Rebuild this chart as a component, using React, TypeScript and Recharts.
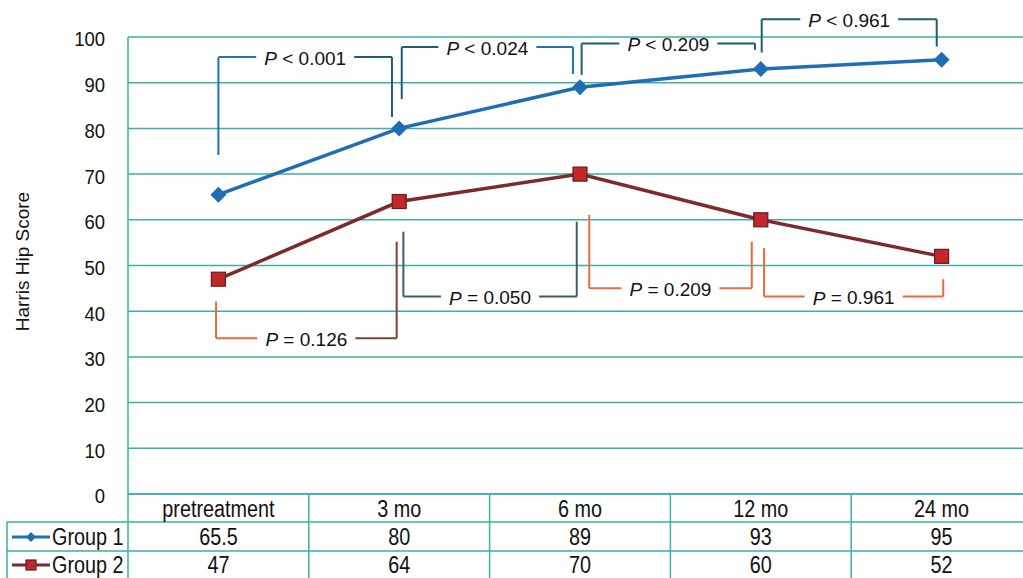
import React from 'react';
import {
    ComposedChart,
    Line,
    XAxis,
    YAxis,
    CartesianGrid,
    ReferenceLine,
    ReferenceDot
} from 'recharts';

// data
const categories = ['pretreatment', '3 mo', '6 mo', '12 mo', '24 mo'];
const group1 = [65.5, 80, 89, 93, 95];
const group2 = [47, 64, 70, 60, 52];
const yTicks = [0, 10, 20, 30, 40, 50, 60, 70, 80, 90, 100];
const xTicks = [0, 1, 2, 3, 4];

// significance brackets, in data units (x = category index, y = score)
const BLUE = '#2172b8';
const DARK_TEAL = '#1d5f72';
const ORANGE = '#f0693d';
const DARK_RED = '#8a3c34';
const SLATE = '#3f5e6b';

const group1Brackets = [
    { from: 0, to: 0.96, level: 95.6, leftEnd: 74.2, rightEnd: 82.5, text: '< 0.001', leftColor: BLUE, rightColor: DARK_TEAL },
    { from: 1.014, to: 1.961, level: 97.8, leftEnd: 86.4, rightEnd: 91.9, text: '< 0.024', leftColor: DARK_TEAL, rightColor: BLUE },
    { from: 2.009, to: 2.968, level: 98.6, leftEnd: 91.7, rightEnd: 97.2, text: '< 0.209', leftColor: DARK_TEAL, rightColor: DARK_TEAL },
    { from: 3.005, to: 3.973, level: 103.9, leftEnd: 96.6, rightEnd: 97.9, text: '< 0.961', leftColor: DARK_TEAL, rightColor: DARK_TEAL }
];

const group2Brackets = [
    { from: -0.013, to: 0.986, level: 34.1, leftEnd: 42.1, rightEnd: 55.2, text: '= 0.126', leftColor: ORANGE, rightColor: DARK_RED },
    { from: 1.023, to: 1.982, level: 43.2, leftEnd: 57.4, rightEnd: 59.6, text: '= 0.050', leftColor: SLATE, rightColor: SLATE },
    { from: 2.051, to: 2.95, level: 45.0, leftEnd: 61.1, rightEnd: 55.2, text: '= 0.209', leftColor: ORANGE, rightColor: ORANGE },
    { from: 3.018, to: 4.009, level: 43.2, leftEnd: 53.8, rightEnd: 47.0, text: '= 0.961', leftColor: ORANGE, rightColor: ORANGE }
];

const chartData = categories.map((c, i) => ({ idx: i, cat: c, g1: group1[i], g2: group2[i] }));

// layout
const W = 1040;
const H = 580;
const MARGIN = { top: 37, right: 8, bottom: 0, left: 0 };
const Y_AXIS_W = 128;
const X_AXIS_H = 86;
const PLOT_W = W - MARGIN.left - MARGIN.right - Y_AXIS_W;
const PLOT_BOTTOM = MARGIN.top + (H - MARGIN.top - MARGIN.bottom - X_AXIS_H);
const COL_W = PLOT_W / categories.length;
const LABEL_GAP = 49 / COL_W; // half-width of the gap left in a bracket for its text
const TEAL = '#3aafab';
const FONT = '"Liberation Sans", Arial, Helvetica, sans-serif';
const G1_COLOR = '#1f6db5';
const G2_LINE = '#7e2a2a';
const G2_FILL = '#c4262c';
const TXT = 23;
const SQUEEZE = 0.86; // the figure's font is a condensed sans

const ROW1 = PLOT_BOTTOM + 28;
const ROW2 = PLOT_BOTTOM + 57;

// condensed text: regular sans squeezed horizontally around its anchor
const NText = ({ x, y, anchor = 'middle', size = TXT, sx = SQUEEZE, children }: any) => (
    <text
        transform={`translate(${x},${y}) scale(${sx},1)`}
        x={0}
        y={0}
        textAnchor={anchor}
        dominantBaseline="central"
        fontSize={size}
        fill="#111"
    >
        {children}
    </text>
);

const Diamond = ({ cx, cy, size = 8, color = G1_COLOR }: any) => (
    <polygon
        points={`${cx},${cy - size} ${cx + size},${cy} ${cx},${cy + size} ${cx - size},${cy}`}
        fill={color}
    />
);

const Square = ({ cx, cy, size = 7 }: any) => (
    <rect x={cx - size} y={cy - size} width={size * 2} height={size * 2} fill={G2_FILL} stroke="#5e1f1f" strokeWidth={1.2} />
);

const YTick = (props: any) => (
    <NText x={props.x} y={props.y + 2} anchor="end" size={21} sx={0.88}>{props.payload.value}</NText>
);

// each x tick draws one column of the data table under the plot
const TableTick = (props: any) => {
    const { x, payload } = props;
    const i = payload.value as number;
    const left = x - COL_W / 2;
    const right = x + COL_W / 2;
    return (
        <g>
            <line x1={right} y1={PLOT_BOTTOM} x2={right} y2={H} stroke={TEAL} strokeWidth={1.5} />
            <line x1={left} y1={ROW1} x2={right} y2={ROW1} stroke={TEAL} strokeWidth={1.5} />
            <line x1={left} y1={ROW2} x2={right} y2={ROW2} stroke={TEAL} strokeWidth={1.5} />
            <NText x={x} y={PLOT_BOTTOM + 15}>{categories[i]}</NText>
            <NText x={x} y={ROW1 + 15}>{group1[i]}</NText>
            <NText x={x} y={ROW2 + 14}>{group2[i]}</NText>
            {i === 0 && (
                <g>
                    <line x1={left} y1={PLOT_BOTTOM} x2={left} y2={H} stroke={TEAL} strokeWidth={1.5} />
                    <line x1={7} y1={ROW1} x2={left} y2={ROW1} stroke={TEAL} strokeWidth={1.5} />
                    <line x1={7} y1={ROW2} x2={left} y2={ROW2} stroke={TEAL} strokeWidth={1.5} />
                    <line x1={7} y1={ROW1} x2={7} y2={H} stroke={TEAL} strokeWidth={1.5} />
                    <line x1={12} y1={ROW1 + 15} x2={50} y2={ROW1 + 15} stroke={G1_COLOR} strokeWidth={3} />
                    <Diamond cx={31} cy={ROW1 + 15} size={5} />
                    <NText x={52} y={ROW1 + 15} anchor="start">Group 1</NText>
                    <line x1={12} y1={ROW2 + 14} x2={50} y2={ROW2 + 14} stroke={G2_LINE} strokeWidth={3} />
                    <Square cx={31} cy={ROW2 + 14} size={5} />
                    <NText x={52} y={ROW2 + 14} anchor="start">Group 2</NText>
                </g>
            )}
        </g>
    );
};

const bracketLabel = (text: string) => (props: any) => {
    const { viewBox } = props;
    const cx = viewBox.x + viewBox.width / 2;
    const cy = viewBox.y + viewBox.height / 2;
    return (
        <text x={cx} y={cy + 1} textAnchor="middle" dominantBaseline="central" fontSize={19} fill="#111">
            <tspan fontStyle="italic">P</tspan>{' ' + text}
        </text>
    );
};

const renderBrackets = (list: typeof group1Brackets, prefix: string) => {
    const out: React.ReactNode[] = [];
    list.forEach((b, k) => {
        const mid = (b.from + b.to) / 2;
        const common = { ifOverflow: 'visible' as const, strokeWidth: 2 };
        out.push(
            <ReferenceLine key={`${prefix}l${k}`} {...common} stroke={b.leftColor}
                segment={[{ x: b.from, y: b.leftEnd }, { x: b.from, y: b.level }]} />,
            <ReferenceLine key={`${prefix}hl${k}`} {...common} stroke={b.leftColor}
                segment={[{ x: b.from, y: b.level }, { x: mid - LABEL_GAP, y: b.level }]} />,
            <ReferenceLine key={`${prefix}hr${k}`} {...common} stroke={b.rightColor}
                segment={[{ x: mid + LABEL_GAP, y: b.level }, { x: b.to, y: b.level }]} />,
            <ReferenceLine key={`${prefix}r${k}`} {...common} stroke={b.rightColor}
                segment={[{ x: b.to, y: b.level }, { x: b.to, y: b.rightEnd }]} />,
            <ReferenceDot key={`${prefix}t${k}`} x={mid} y={b.level} r={1} fill="none" stroke="none"
                ifOverflow="visible" label={bracketLabel(b.text)} />
        );
    });
    return out;
};

export default function App() {
    return (
        <div style={{ position: 'absolute', left: 0, top: 0, width: 1023, height: 578, overflow: 'hidden', background: '#fff', fontFamily: FONT }}>
            <ComposedChart width={W} height={H} data={chartData} margin={MARGIN} style={{ fontFamily: FONT }}>
                <CartesianGrid vertical={false} stroke={TEAL} strokeWidth={1.5} />
                <XAxis
                    dataKey="idx"
                    type="number"
                    domain={[-0.5, 4.5]}
                    ticks={xTicks}
                    interval={0}
                    height={X_AXIS_H}
                    axisLine={{ stroke: TEAL, strokeWidth: 1.5 }}
                    tickLine={false}
                    tick={<TableTick />}
                />
                <YAxis
                    domain={[0, 100]}
                    ticks={yTicks}
                    width={Y_AXIS_W}
                    axisLine={{ stroke: TEAL, strokeWidth: 1.5 }}
                    tickLine={false}
                    tickMargin={17}
                    tick={<YTick />}
                    label={(p: any) => {
                        const vb = p.viewBox;
                        const cy = vb.y + vb.height / 2 - 4;
                        return (
                            <text x={22} y={cy} transform={`rotate(-90 22 ${cy})`} textAnchor="middle"
                                dominantBaseline="central" fontSize={19} fill="#111">Harris Hip Score</text>
                        );
                    }}
                />
                {renderBrackets(group1Brackets, 'a')}
                {renderBrackets(group2Brackets, 'b')}
                <Line
                    dataKey="g1"
                    stroke={G1_COLOR}
                    strokeWidth={3.5}
                    isAnimationActive={false}
                    dot={(p: any) => <Diamond key={`d${p.index}`} cx={p.cx} cy={p.cy} />}
                    activeDot={false}
                />
                <Line
                    dataKey="g2"
                    stroke={G2_LINE}
                    strokeWidth={3.5}
                    isAnimationActive={false}
                    dot={(p: any) => <Square key={`s${p.index}`} cx={p.cx} cy={p.cy} />}
                    activeDot={false}
                />
            </ComposedChart>
        </div>
    );
}
